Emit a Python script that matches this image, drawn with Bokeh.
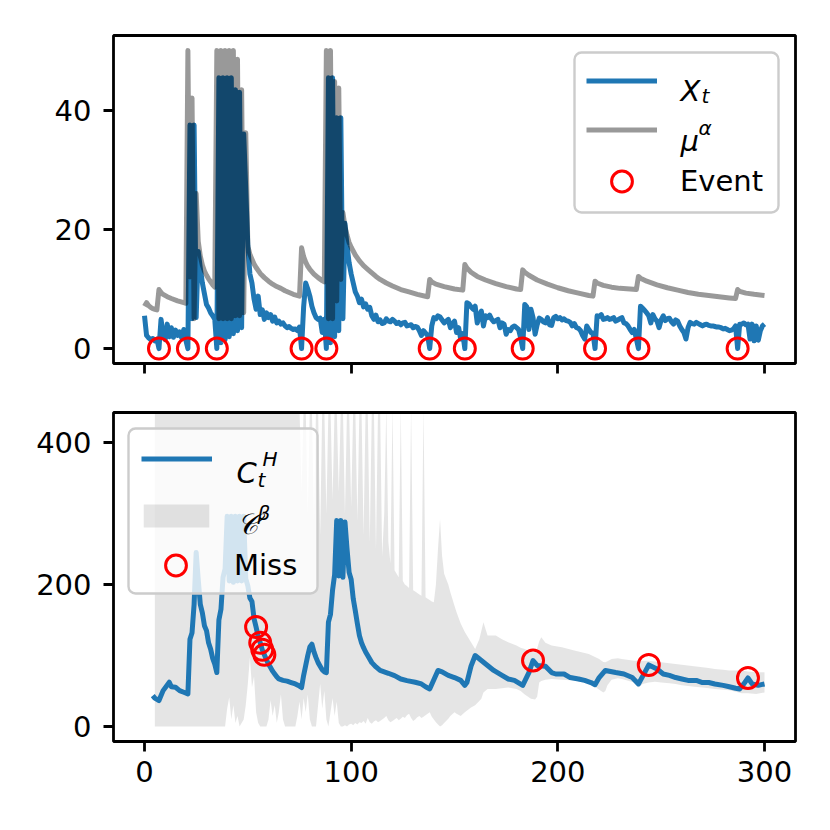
from bokeh.plotting import figure
from bokeh.layouts import column
from bokeh.models import Range1d, Legend, LegendItem, Label, FixedTicker, BoxAnnotation
from bokeh.embed import file_html
from bokeh.resources import INLINE

# ---------------- data ----------------
XTICKS = [0, 100, 200, 300]
TOP_YTICKS = [0, 20, 40]
BOT_YTICKS = [0, 200, 400]

# X_t at t = 0..300
XT_V = [
    5.5, 2.2, 1.8, 1.5, 1.7, 1.3, 1.6, 0.0, 4.9, 2.4, 1.5, 4.1, 2.0, 3.5, 1.9, 3.1, 2.2, 2.8, 1.8, 3.2, 1.4,
    0.0, 37.5, 5.0, 37.5, 5.2, 16.3, 13.5, 11.0, 9.2, 7.4, 6.8, 6.0, 5.5, 4.9, 0.0,
    45.4, 1.0, 45.4, 1.5, 45.4, 2.0, 45.4, 2.5, 43.4, 3.0, 43.0, 3.5, 36.0, 26.7, 17.2,
    12.5, 11.0, 8.3, 6.6, 8.8, 5.7, 6.5, 4.9, 6.0, 5.2, 5.7, 4.6, 5.3, 4.3, 4.6, 4.1, 4.3, 3.8, 3.5, 3.7,
    3.4, 3.2, 3.3, 3.0, 3.6, 0.0,
    7.0, 11.0, 10.0, 8.8, 7.1, 6.0, 5.2, 4.9, 5.1, 2.7, 4.9, 0.0,
    45.4, 1.0, 45.4, 2.0, 38.7, 3.0, 38.7, 5.0, 21.0, 17.2, 14.4, 12.5, 11.0, 9.5, 8.8, 7.7, 8.3, 7.0,
    7.5, 6.6, 6.9, 5.5, 4.9, 5.6, 4.5,
    4.8, 4.2, 4.3, 5.0, 4.6, 4.5, 4.9, 4.6, 4.2, 4.4, 4.0, 4.3, 4.4, 3.8, 3.9, 4.0, 3.5, 3.7, 3.6, 3.0,
    2.2, 3.0, 2.6, 2.2, 0.0,
    3.8, 5.2, 5.0, 5.5, 5.3, 4.8, 4.3, 4.6, 4.9, 3.5, 4.2, 4.6, 2.7, 3.5, 1.6, 2.5, 0.0,
    7.7, 7.5, 7.0, 6.6, 7.1, 4.3, 5.5, 6.3, 3.8, 5.5, 5.2, 5.6, 4.9, 4.5, 4.7, 4.9, 3.5, 4.3, 4.1, 2.4,
    3.2, 3.0, 3.6, 3.8, 3.5, 3.2, 1.8, 0.0,
    7.4, 7.0, 3.2, 6.6, 5.2, 2.4, 4.0, 5.1, 4.9, 4.5, 4.3, 5.2, 4.0, 3.9, 5.2, 5.4, 5.0, 5.2, 4.8, 5.0,
    4.7, 4.6, 4.4, 3.8, 4.2, 3.5, 3.4, 3.0, 2.2, 1.6, 3.8, 3.2, 2.7, 2.6, 0.0,
    5.5, 5.4, 5.7, 4.9, 5.0, 5.2, 4.9, 5.0, 5.2, 4.6, 4.8, 5.0, 5.2, 4.3, 4.2, 3.8, 3.2, 2.7, 3.2, 1.6, 0.0,
    7.1, 6.8, 6.4, 6.0, 5.5, 4.3, 5.7, 5.0, 4.6, 3.5, 4.8, 5.5, 4.7, 5.0, 5.1, 4.5, 4.1, 4.8, 4.6, 3.8,
    3.2, 2.7, 1.6, 3.5, 4.4, 4.2, 4.1, 4.4, 4.2, 4.0, 3.8, 4.0, 4.1, 3.9, 3.8, 3.8, 3.7, 3.6, 3.6, 3.5,
    3.3, 3.4, 3.2, 3.0, 3.1, 3.3, 3.8, 0.0,
    4.1, 4.1, 4.3, 4.0, 4.1, 1.6, 4.1, 1.3, 3.8, 1.4, 3.0, 3.8, 4.1,
]
XT_T = list(range(len(XT_V)))

MU_T = [
    0, 1, 2, 3, 4, 5, 6, 7, 8, 9,
    11, 13, 16, 19, 20, 21, 22, 23, 24, 25,
    26, 27, 28, 29, 30, 31, 32, 33, 34, 35,
    36, 37, 38, 39, 40, 41, 42, 43, 44, 45,
    46, 47, 48, 49, 50, 51, 52, 53, 54, 56,
    58, 60, 62, 64, 66, 68, 70, 72, 75, 76,
    77, 78, 79, 80, 82, 84, 86, 87, 88, 89,
    90, 91, 92, 93, 94, 95, 96, 97, 98, 99,
    100, 102, 104, 106, 108, 110, 112, 114, 117, 120,
    124, 128, 132, 137, 138, 139, 141, 145, 150, 154,
    155, 156, 158, 161, 165, 170, 175, 180, 182, 183,
    184, 186, 190, 195, 200, 205, 210, 215, 217, 218,
    219, 222, 226, 230, 235, 238, 239, 240, 243, 248,
    253, 258, 263, 268, 273, 278, 283, 286, 287, 288,
    291, 295, 300,
]
MU_V = [
    7.1, 7.7, 7.2, 6.9, 6.7, 6.6, 6.5, 9.9, 9.4, 9.1,
    8.7, 8.4, 8.0, 7.7, 7.6, 50, 12, 42, 5, 26,
    18, 15.5, 14, 13, 12.3, 11.7, 11.2, 10.7, 10.3, 50,
    5, 50, 5, 50, 5, 50, 5, 50, 5.5, 48.5,
    5.5, 43.4, 6, 36.2, 17.2, 15.8, 15.0, 14.2, 13.6, 12.6,
    11.9, 11.3, 10.8, 10.4, 10.1, 9.7, 9.4, 9.1, 8.8, 16.9,
    15.4, 14.5, 13.8, 13.3, 12.5, 11.9, 11.4, 11.2, 50, 5,
    50, 5, 44.8, 8, 43.7, 11.6, 22.8, 20.5, 19.0, 17.8,
    17.0, 15.7, 14.7, 13.9, 13.3, 12.7, 12.1, 11.6, 11.0, 10.5,
    9.9, 9.5, 9.1, 8.7, 11.6, 11.2, 10.8, 10.4, 10.0, 9.8,
    14.1, 13.5, 12.8, 12.1, 11.5, 10.9, 10.4, 10.0, 9.9, 13.2,
    12.8, 12.3, 11.5, 10.8, 10.2, 9.7, 9.3, 8.9, 8.8, 11.3,
    11.0, 10.6, 10.3, 10.1, 10.0, 9.9, 12.1, 11.8, 11.3, 10.7,
    10.2, 9.8, 9.4, 9.1, 8.9, 8.7, 8.5, 8.4, 9.9, 9.6,
    9.3, 9.1, 8.9,
]

EVENT_T = [7, 21, 35, 76, 88, 138, 155, 183, 218, 239, 287]
EVENT_V = [0, 0, 0, 0, 0, 0, 0, 0, 0, 0, 0]

CH_T = [
    4, 5, 7, 9, 12, 13, 15, 17, 19, 21,
    22, 23, 24, 25, 26, 27, 28, 29, 30, 31,
    32, 33, 34, 35, 36, 37, 38, 39, 40, 41,
    42, 43, 44, 45, 46, 47, 48, 49, 50, 51,
    52, 53, 54, 55, 56, 57, 58, 59, 60, 61,
    62, 63, 64, 65, 67, 69, 71, 73, 75, 76,
    77, 78, 79, 80, 81, 82, 83, 84, 85, 86,
    87, 88, 89, 90, 91, 92, 93, 94, 95, 96,
    97, 98, 99, 100, 101, 102, 103, 104, 105, 106,
    107, 108, 110, 112, 114, 116, 118, 121, 124, 127,
    131, 134, 136, 138, 140, 142, 144, 147, 150, 153,
    155, 156, 158, 160, 163, 166, 169, 173, 176, 179,
    183, 186, 188, 190, 194, 197, 199, 203, 206, 210,
    213, 216, 218, 220, 223, 228, 232, 236, 239, 242,
    244, 248, 251, 254, 257, 260, 263, 267, 270, 273,
    276, 280, 283, 286, 288, 290, 292, 294, 297, 300,
]
CH_V = [
    43.6, 40, 36.6, 50.6, 62.4, 56, 55.3, 50.6, 48.3, 46,
    123, 132, 172, 245, 207, 172, 160, 142, 135, 118,
    109, 96, 88, 76, 150, 165, 210, 222, 296, 205,
    296, 203, 296, 205, 296, 205, 296, 208, 198, 181,
    176, 152, 140, 127, 118, 108, 101, 94, 88, 83,
    78, 74, 70, 67, 65, 64, 62, 60, 57, 55,
    72, 86, 100, 112, 116, 105, 97, 90, 85, 80,
    77, 76, 147, 158, 192, 214, 290, 212, 290, 210,
    288, 250, 217, 207, 180, 163, 145, 128, 118, 111,
    105, 100, 90, 84, 79, 77, 75, 71.7, 67, 64.7,
    62.4, 60, 56, 53, 66, 79, 77, 72, 69, 65,
    58, 62, 85, 100, 93, 86, 79, 72, 67, 65,
    58, 76, 93, 86, 85, 76, 74, 74, 69, 67,
    65, 62, 59, 69, 79, 76, 74, 69, 60, 76,
    86.7, 81, 74, 72, 69, 67, 65, 65, 62, 62,
    60, 58, 56, 54, 53, 60, 68.4, 60, 58, 60,
]

MISS_T = [54, 56, 57, 58, 188, 244, 292]
MISS_V = [140, 118, 108, 101, 93, 86.7, 68.4]

BAND_T = [
    5, 37, 39, 40, 41, 42, 43, 44, 45, 46,
    48, 49, 50, 51, 52, 53, 54, 55, 56, 59,
    60, 61, 62, 63, 64, 65, 66, 67, 68, 73,
    74, 75, 76, 77, 78, 79, 80, 81, 82, 83,
    84, 85, 86, 87, 88, 89, 90, 91, 92, 93,
    94, 95, 96, 97, 98, 99, 100, 101, 102, 103,
    104, 105, 106, 107, 108, 109, 110, 111, 112, 113,
    114, 115, 116, 117, 118, 119, 120, 121, 122, 123,
    124, 125, 126, 127, 128, 129, 130, 131, 132, 133,
    134, 135, 136, 137, 138, 139, 140, 141, 142, 143,
    144, 145, 147, 148, 150, 151, 153, 155, 158, 160,
    162, 163, 164, 166, 170, 173, 176, 180, 182, 184,
    187, 189, 190, 191, 192, 194, 197, 202, 208, 215,
    218, 220, 222, 223, 224, 226, 229, 231, 237, 239,
    241, 244, 247, 250, 254, 257, 260, 263, 266, 270,
    273, 276, 280, 283, 286, 289, 292, 296, 300,
]
BAND_LO = [
    0, 0, 0, 25, 41, 10, 30, 5, 15, 0,
    10, 30, 60, 97, 55, 70, 20, 5, 0, 0,
    10, 37, 15, 30, 5, 20, 45, 10, 0, 0,
    15, 35, 10, 40, 20, 45, 10, 0, 0, 0,
    30, 60, 25, 50, 10, 0, 20, 40, 15, 35,
    5, 0, 0, 2, 0, 3, 4, 2, 5, 3,
    6, 5, 8, 4, 12, 6, 4, 7, 9, 6,
    8, 10, 12, 15, 9, 6, 8, 10, 12, 9,
    11, 14, 12, 16, 18, 12, 8, 10, 13, 15,
    12, 14, 16, 18, 20, 14, 10, 6, 3, 0,
    2, 5, 11, 15, 20, 18, 15, 20, 27, 30,
    36, 39, 48, 53, 53, 54, 55, 53, 50, 45,
    39, 38, 42, 62, 64, 66, 67, 66, 65, 61,
    56, 52, 48, 50, 58, 66, 68, 67, 62, 55,
    60, 62, 63, 62, 61, 60, 58, 57, 56, 55,
    54, 53, 52, 51, 49, 47, 47, 46, 48,
]
BAND_HI = [
    450, 450, 450, 450, 450, 450, 450, 450, 450, 450,
    450, 450, 450, 450, 450, 450, 450, 450, 450, 450,
    450, 450, 450, 450, 450, 450, 450, 450, 450, 450,
    450, 450, 330, 450, 450, 300, 450, 450, 290, 450,
    450, 270, 450, 450, 300, 450, 450, 320, 450, 450,
    330, 450, 450, 300, 450, 450, 310, 450, 450, 290,
    450, 450, 270, 450, 450, 260, 450, 450, 250, 450,
    450, 240, 300, 450, 260, 230, 450, 220, 215, 210,
    450, 205, 200, 198, 195, 450, 192, 190, 188, 186,
    184, 450, 182, 180, 178, 176, 175, 200, 250, 292,
    240, 215, 200, 189, 170, 161, 145, 133, 118.6, 109,
    123, 135, 146.7, 128, 128, 123, 118.6, 114, 111, 109,
    105, 104.5, 110, 120, 125.6, 118, 114, 111.6, 107, 102,
    98, 95, 91, 90.5, 92, 95, 96, 95, 92.8, 92.8,
    92.8, 92.8, 91.5, 90.5, 89, 88, 87, 85.8, 85, 83.5,
    82.5, 81, 80, 78.8, 78.8, 78.8, 77.5, 76.4, 76.4,
]

# ---------------- styling ----------------
BLUE = "#1f77b4"
FONT = "DejaVu Sans"
LW = 5


def style(p, yticks):
    p.outline_line_color = "black"
    p.outline_line_width = 2.8
    p.xgrid.visible = False
    p.ygrid.visible = False
    p.background_fill_color = "white"
    p.border_fill_color = "white"
    for ax in (p.xaxis[0], p.yaxis[0]):
        ax.axis_line_color = None
        ax.major_tick_out = 10
        ax.major_tick_in = 0
        ax.minor_tick_out = 0
        ax.minor_tick_in = 0
        ax.major_tick_line_width = 2.8
        ax.major_tick_line_color = "black"
        ax.major_label_text_font = FONT
        ax.major_label_text_font_size = "29px"
        ax.major_label_text_color = "black"
    p.xaxis.major_label_standoff = 9
    p.yaxis.major_label_standoff = 12
    p.xaxis.ticker = FixedTicker(ticks=XTICKS)
    p.yaxis.ticker = FixedTicker(ticks=yticks)


def legend_box(p, left, right, top, bottom):
    p.add_layout(BoxAnnotation(left=left, right=right, top=top, bottom=bottom,
                               left_units="screen", right_units="screen",
                               top_units="screen", bottom_units="screen",
                               fill_color="white", fill_alpha=0.8,
                               line_color="#cccccc", line_width=2.4, line_alpha=1.0,
                               border_radius=7))


def legend_row(p, renderer, label, vx, vy, gw, gh, lw):
    p.add_layout(Legend(items=[LegendItem(label=label, renderers=[renderer])],
                        location=(vx, vy), margin=0, padding=0, spacing=0,
                        glyph_width=gw, glyph_height=gh, label_height=gh, label_width=lw,
                        label_standoff=23, label_text_font=FONT, label_text_font_size="29px",
                        label_text_color="black", background_fill_alpha=0.0,
                        border_line_color=None))


def mlabel(p, x, y, text, size):
    p.add_layout(Label(x=x, y=y, x_units="screen", y_units="screen", text=text,
                       text_font=FONT, text_font_style="italic", text_font_size=size,
                       text_color="black", text_baseline="alphabetic", text_align="left"))


# ---------------- top panel ----------------
p1 = figure(frame_width=682, frame_height=328,
            x_range=Range1d(-15, 315), y_range=Range1d(-2.5, 52.5),
            output_backend="svg", toolbar_location=None,
            min_border_left=113, min_border_right=13, min_border_top=35, min_border_bottom=20)
style(p1, TOP_YTICKS)
p1.xaxis.major_label_text_font_size = "0px"
p1.xaxis.major_label_standoff = 0
p1.xaxis.major_label_overrides = {0: "", 100: "", 200: "", 300: ""}

r_x = p1.line(XT_T, XT_V, line_color=BLUE, line_width=LW, line_join="round")
r_mu = p1.line(MU_T, MU_V, line_color="black", line_alpha=0.4, line_width=LW, line_join="round")
r_ev = p1.scatter(EVENT_T, EVENT_V, marker="circle", size=21, fill_color=None,
                  line_color="red", line_width=3)

# legend (frame-relative screen coordinates, y upwards)
legend_box(p1, 461, 665, 311, 151)
mlabel(p1, 567, 273, "X", "29px")
mlabel(p1, 588, 268, "t", "20px")
mlabel(p1, 567, 223, "μ", "29px")
mlabel(p1, 585, 236, "α", "20px")
legend_row(p1, r_x, " ", 473, 266, 71, 33, 86)
legend_row(p1, r_mu, " ", 473, 217, 71, 33, 86)
legend_row(p1, r_ev, "Event", 473, 156, 71, 52, 86)

# ---------------- bottom panel ----------------
p2 = figure(frame_width=682, frame_height=329,
            x_range=Range1d(-15, 315), y_range=Range1d(-21, 442),
            output_backend="svg", toolbar_location=None,
            min_border_left=113, min_border_right=13, min_border_top=29, min_border_bottom=60)
style(p2, BOT_YTICKS)

r_band = p2.varea(x=BAND_T, y1=BAND_LO, y2=BAND_HI, fill_color="black", fill_alpha=0.1)
r_ch = p2.line(CH_T, CH_V, line_color=BLUE, line_width=LW, line_join="round")
r_miss = p2.scatter(MISS_T, MISS_V, marker="circle", size=21, fill_color=None,
                    line_color="red", line_width=3)

legend_box(p2, 15, 204, 313, 148)
mlabel(p2, 123, 269, "C", "29px")
mlabel(p2, 144, 262, "t", "20px")
mlabel(p2, 149, 283, "H", "20px")
mlabel(p2, 123, 218, "𝒞", "29px")
mlabel(p2, 144, 229, "β", "20px")
legend_row(p2, r_ch, " ", 28, 266, 71, 33, 71)
legend_row(p2, r_band, " ", 22, 211, 82, 29, 71)
legend_row(p2, r_miss, "Miss", 27, 150, 71, 52, 71)

layout = column(p1, p2)
open("out.html", "w").write(file_html(layout, INLINE))
